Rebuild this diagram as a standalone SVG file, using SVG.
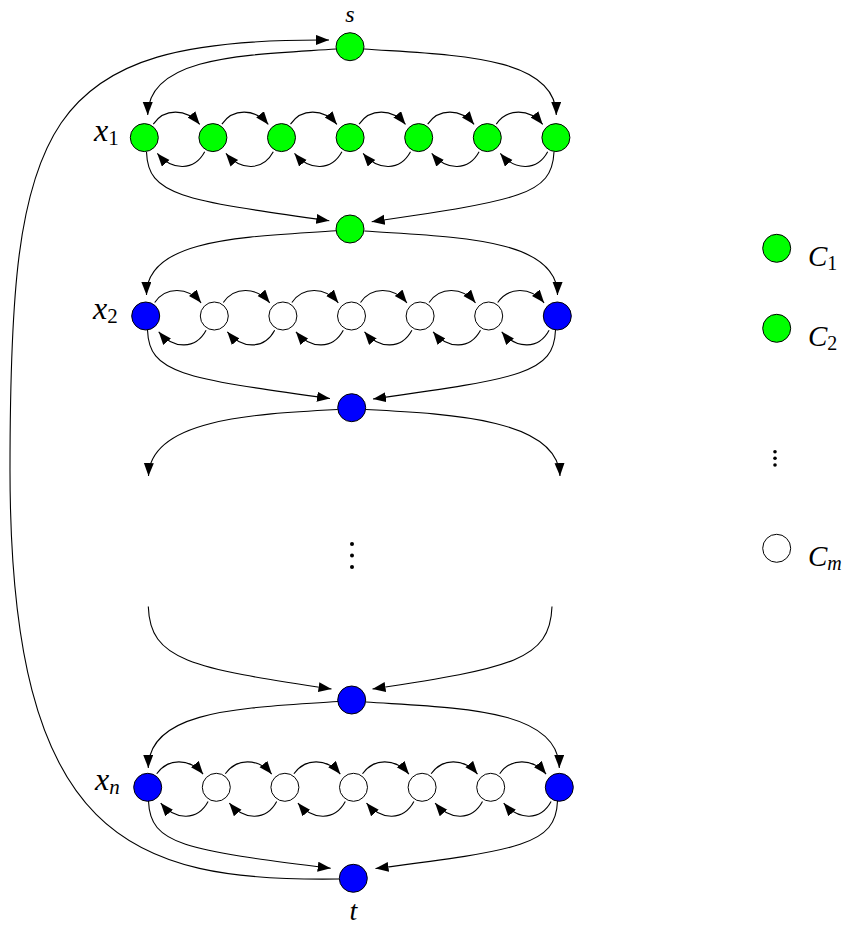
<svg xmlns="http://www.w3.org/2000/svg" width="857" height="926" viewBox="0 0 857 926">
<style>
.n{stroke:#000;stroke-width:1}
.g{fill:#00ff00}
.b{fill:#0000ff}
.w{fill:#ffffff}
.c{fill:none;stroke:#000;stroke-width:1.1;marker-end:url(#ah)}
.lb{font-family:"Liberation Serif","DejaVu Serif",serif;font-style:italic;fill:#000}
.up{font-style:normal}
.dot{fill:#000}
</style>
<defs>
<marker id="ah" markerUnits="userSpaceOnUse" markerWidth="14" markerHeight="11" refX="13" refY="5" orient="auto">
<path d="M0,0 L13,5 L0,10 z" fill="#000"/>
</marker>
</defs>
<g id="connectors">
<path class="c" d="M336,49 C250,55 148,55 147.7,115"/>
<path class="c" d="M364,49 C450,55 556,55 556.3,115"/>
<path class="c" d="M146.5,152 C148,195 180,200 329.3,220.7"/>
<path class="c" d="M554,152 C552,195 520,200 371.7,221.7"/>
<path class="c" d="M336.3,230.7 C250,237 146,237 146.5,295"/>
<path class="c" d="M364.3,231 C450,237 558,237 557.5,295"/>
<path class="c" d="M147.5,330 C149,373 181,378 330,398.5"/>
<path class="c" d="M555.5,330 C554,373 522,378 373,399"/>
<path class="c" d="M337.7,409.5 C250,414 150,420 148.5,476"/>
<path class="c" d="M365.7,409.5 C455,414 558,420 560,476"/>
<path class="c" d="M148.3,606.5 C150,660 190,668 331.5,689"/>
<path class="c" d="M552,606.5 C550,660 512,668 372.5,689"/>
<path class="c" d="M338,701.5 C250,708 148,708 148.3,768"/>
<path class="c" d="M366,702 C455,708 559,708 559.3,768"/>
<path class="c" d="M148.5,801 C150,845 185,850 330.7,868.3"/>
<path class="c" d="M557.5,801 C556,845 520,850 375.5,868.5"/>
<path class="c" d="M339,879 C130,882 10,840 10,470 C10,120 40,38 329,40"/>
<path class="c" d="M153.3,124.1 c11,-16 33,-16 46.4,0.3"/>
<path class="c" d="M221.9,124.1 c11,-16 33,-16 46.4,0.3"/>
<path class="c" d="M290.5,124.1 c11,-16 33,-16 46.4,0.3"/>
<path class="c" d="M359.1,124.1 c11,-16 33,-16 46.4,0.3"/>
<path class="c" d="M427.7,124.1 c11,-16 33,-16 46.4,0.3"/>
<path class="c" d="M496.3,124.1 c11,-16 33,-16 46.4,0.3"/>
<path class="c" d="M204.7,151.8 c-10.4,19.3 -32.4,19.3 -47.4,1.6"/>
<path class="c" d="M273.3,151.8 c-10.4,19.3 -32.4,19.3 -47.4,1.6"/>
<path class="c" d="M341.9,151.8 c-10.4,19.3 -32.4,19.3 -47.4,1.6"/>
<path class="c" d="M410.5,151.8 c-10.4,19.3 -32.4,19.3 -47.4,1.6"/>
<path class="c" d="M479.1,151.8 c-10.4,19.3 -32.4,19.3 -47.4,1.6"/>
<path class="c" d="M547.7,151.8 c-10.4,19.3 -32.4,19.3 -47.4,1.6"/>
<path class="c" d="M154.7,302.5 c11,-16 33,-16 46.4,0.3"/>
<path class="c" d="M223.3,302.5 c11,-16 33,-16 46.4,0.3"/>
<path class="c" d="M291.9,302.5 c11,-16 33,-16 46.4,0.3"/>
<path class="c" d="M360.5,302.5 c11,-16 33,-16 46.4,0.3"/>
<path class="c" d="M429.1,302.5 c11,-16 33,-16 46.4,0.3"/>
<path class="c" d="M497.7,302.5 c11,-16 33,-16 46.4,0.3"/>
<path class="c" d="M206.1,330.2 c-10.4,19.3 -32.4,19.3 -47.4,1.6"/>
<path class="c" d="M274.7,330.2 c-10.4,19.3 -32.4,19.3 -47.4,1.6"/>
<path class="c" d="M343.3,330.2 c-10.4,19.3 -32.4,19.3 -47.4,1.6"/>
<path class="c" d="M411.9,330.2 c-10.4,19.3 -32.4,19.3 -47.4,1.6"/>
<path class="c" d="M480.5,330.2 c-10.4,19.3 -32.4,19.3 -47.4,1.6"/>
<path class="c" d="M549.1,330.2 c-10.4,19.3 -32.4,19.3 -47.4,1.6"/>
<path class="c" d="M156.7,773.8 c11,-16 33,-16 46.4,0.3"/>
<path class="c" d="M225.3,773.8 c11,-16 33,-16 46.4,0.3"/>
<path class="c" d="M293.9,773.8 c11,-16 33,-16 46.4,0.3"/>
<path class="c" d="M362.5,773.8 c11,-16 33,-16 46.4,0.3"/>
<path class="c" d="M431.1,773.8 c11,-16 33,-16 46.4,0.3"/>
<path class="c" d="M499.7,773.8 c11,-16 33,-16 46.4,0.3"/>
<path class="c" d="M208.1,801.5 c-10.4,19.3 -32.4,19.3 -47.4,1.6"/>
<path class="c" d="M276.7,801.5 c-10.4,19.3 -32.4,19.3 -47.4,1.6"/>
<path class="c" d="M345.3,801.5 c-10.4,19.3 -32.4,19.3 -47.4,1.6"/>
<path class="c" d="M413.9,801.5 c-10.4,19.3 -32.4,19.3 -47.4,1.6"/>
<path class="c" d="M482.5,801.5 c-10.4,19.3 -32.4,19.3 -47.4,1.6"/>
<path class="c" d="M551.1,801.5 c-10.4,19.3 -32.4,19.3 -47.4,1.6"/>
</g>
<g id="node-s"><circle class="n g" cx="350" cy="46.7" r="14"/><text class="lb" x="350" y="22" font-size="24" text-anchor="middle">s</text></g>
<g id="node-mid1"><circle class="n g" cx="350" cy="229" r="14"/></g>
<g id="node-mid2"><circle class="n b" cx="351.7" cy="407.7" r="14"/></g>
<g id="node-mid3"><circle class="n b" cx="351.7" cy="700" r="14"/></g>
<g id="node-t"><circle class="n b" cx="353.3" cy="878.3" r="14"/><text class="lb" x="353.3" y="920" font-size="28" text-anchor="middle">t</text></g>
<g id="row1">
<g id="r1n1"><circle class="n g" cx="144.3" cy="137.6" r="14"/><text class="lb" x="94" y="141" font-size="32">x<tspan class="up" font-size="21" dy="4">1</tspan></text></g>
<g id="r1n2"><circle class="n g" cx="212.9" cy="137.6" r="14"/></g>
<g id="r1n3"><circle class="n g" cx="281.5" cy="137.6" r="14"/></g>
<g id="r1n4"><circle class="n g" cx="350.1" cy="137.6" r="14"/></g>
<g id="r1n5"><circle class="n g" cx="418.7" cy="137.6" r="14"/></g>
<g id="r1n6"><circle class="n g" cx="487.3" cy="137.6" r="14"/></g>
<g id="r1n7"><circle class="n g" cx="555.9" cy="137.6" r="14"/></g>
</g>
<g id="row2">
<g id="r2n1"><circle class="n b" cx="145.7" cy="316" r="14"/><text class="lb" x="93" y="319" font-size="32">x<tspan class="up" font-size="21" dy="4">2</tspan></text></g>
<g id="r2n2"><circle class="n w" cx="214.3" cy="316" r="14"/></g>
<g id="r2n3"><circle class="n w" cx="282.9" cy="316" r="14"/></g>
<g id="r2n4"><circle class="n w" cx="351.5" cy="316" r="14"/></g>
<g id="r2n5"><circle class="n w" cx="420.1" cy="316" r="14"/></g>
<g id="r2n6"><circle class="n w" cx="488.7" cy="316" r="14"/></g>
<g id="r2n7"><circle class="n b" cx="557.3" cy="316" r="14"/></g>
</g>
<g id="ellipsis-mid"><circle class="dot" cx="352" cy="544" r="2"/><circle class="dot" cx="352" cy="555.5" r="2"/><circle class="dot" cx="352" cy="567" r="2"/></g>
<g id="rown">
<g id="rnn1"><circle class="n b" cx="147.7" cy="787.3" r="14"/><text class="lb" x="95" y="790" font-size="32">x<tspan font-size="21" dy="4">n</tspan></text></g>
<g id="rnn2"><circle class="n w" cx="216.3" cy="787.3" r="14"/></g>
<g id="rnn3"><circle class="n w" cx="284.9" cy="787.3" r="14"/></g>
<g id="rnn4"><circle class="n w" cx="353.5" cy="787.3" r="14"/></g>
<g id="rnn5"><circle class="n w" cx="422.1" cy="787.3" r="14"/></g>
<g id="rnn6"><circle class="n w" cx="490.7" cy="787.3" r="14"/></g>
<g id="rnn7"><circle class="n b" cx="559.3" cy="787.3" r="14"/></g>
</g>
<g id="legend">
<g id="leg-c1"><circle class="n g" cx="776.7" cy="248.3" r="14"/><text class="lb" x="808" y="266" font-size="29">C<tspan class="up" font-size="20" dy="4">1</tspan></text></g>
<g id="leg-c2"><circle class="n g" cx="776.7" cy="328.3" r="14"/><text class="lb" x="808" y="346" font-size="29">C<tspan class="up" font-size="20" dy="4">2</tspan></text></g>
<g id="leg-dots"><circle class="dot" cx="775" cy="451.7" r="1.8"/><circle class="dot" cx="775" cy="458.3" r="1.8"/><circle class="dot" cx="775" cy="465" r="1.8"/></g>
<g id="leg-cm"><circle class="n w" cx="776.7" cy="548.3" r="14"/><text class="lb" x="808" y="566" font-size="29">C<tspan font-size="20" dy="4">m</tspan></text></g>
</g>
</svg>
